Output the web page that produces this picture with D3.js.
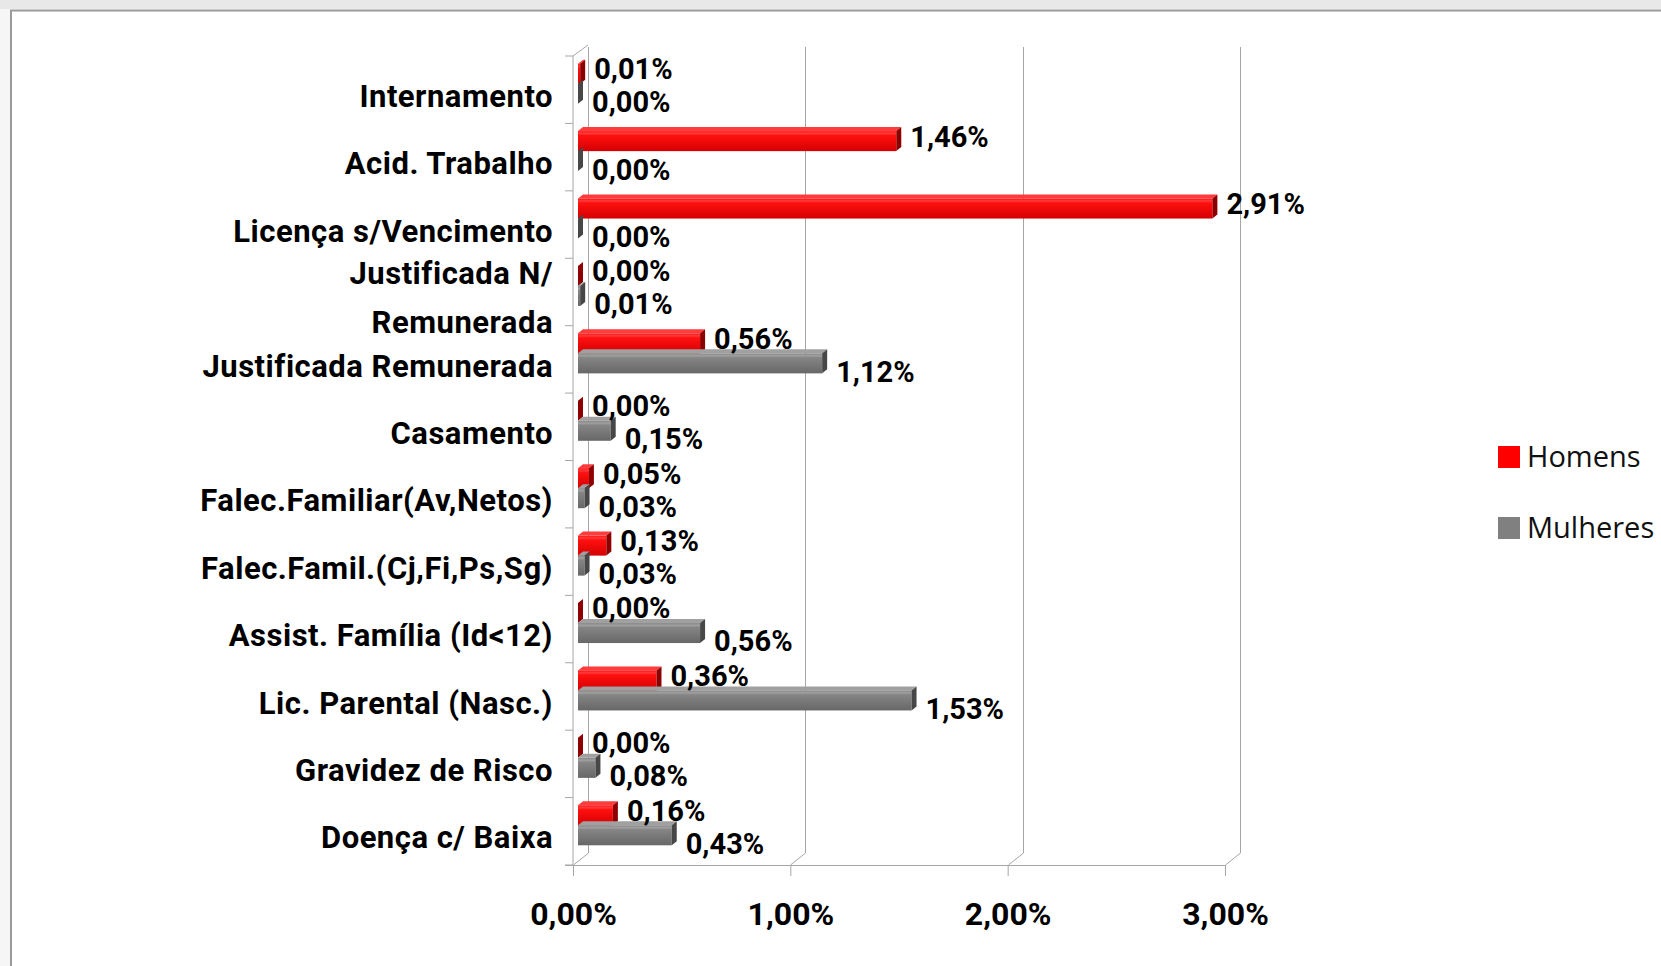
<!DOCTYPE html>
<html>
<head>
<meta charset="utf-8">
<script src="https://cdn.jsdelivr.net/npm/d3@7"></script>
<style>
	body { margin: 0; background: #fff; }
	svg { display: block; }
	.lbl { font-family: Roboto, 'Liberation Sans', sans-serif; font-weight: bold; fill: #000; }
	.cat { font-family: Roboto, 'Liberation Sans', sans-serif; font-weight: bold; fill: #000; }
	.leg { font-family: 'Open Sans', sans-serif; fill: #111; }
</style>
</head>
<body>
<svg id="chart" width="1661" height="966"></svg>
<script>
// categories, top to bottom
var categories = ['Internamento', 'Acid. Trabalho', 'Licença s/Vencimento', 'Justificada N/ Remunerada',
	'Justificada Remunerada', 'Casamento', 'Falec.Familiar(Av,Netos)', 'Falec.Famil.(Cj,Fi,Ps,Sg)',
	'Assist. Família (Id<12)', 'Lic. Parental (Nasc.)', 'Gravidez de Risco', 'Doença c/ Baixa'];
var homens   = [0.01, 1.46, 2.91, 0.00, 0.56, 0.00, 0.05, 0.13, 0.00, 0.36, 0.00, 0.16];
var mulheres = [0.00, 0.00, 0.00, 0.01, 1.12, 0.15, 0.03, 0.03, 0.56, 1.53, 0.08, 0.43];
var seriesNames = ['Homens', 'Mulheres'];
var xTicks = [0, 1, 2, 3];

initchart();

function initchart() {
	var svg = d3.select('#chart');
	var W = +svg.attr('width');
	var H = +svg.attr('height');

	var locale = d3.formatLocale({ decimal: ',', thousands: '.', grouping: [3], currency: ['', '€'] });
	var pct = function(v) { return locale.format('.2f')(v) + '%'; };

	var colors = {
		Homens:   { top: '#ff3b3b', hi: '#ff1010', lo: '#d40000', side: '#8e0000' },
		Mulheres: { top: '#a0a0a0', hi: '#858585', lo: '#676767', side: '#474747' }
	};

	// banner strip and frame
	svg.append('rect').attr('x', 0).attr('y', 0).attr('width', W).attr('height', 9).attr('fill', '#e8e8e8');
	svg.append('rect').attr('x', 0).attr('y', 9).attr('width', 10).attr('height', H).attr('fill', '#f6f6f6');
	svg.append('line').attr('x1', 10).attr('x2', W).attr('y1', 10.5).attr('y2', 10.5).attr('stroke', '#9a9a9a').attr('stroke-width', 2);
	svg.append('line').attr('x1', 11).attr('x2', 11).attr('y1', 10).attr('y2', H).attr('stroke', '#9a9a9a').attr('stroke-width', 2);

	var depthX = 15, depthY = -12;
	var floorY = 865, topY = 56, gridTop = 47;

	var x = d3.scaleLinear().domain([0, 3]).range([573, 1225]);      // front plane
	var xb = d3.scaleLinear().domain([0, 3]).range([578, 1232]);     // bar plane
	var y = d3.scaleBand().domain(categories).range([topY, floorY]);  // front plane
	var yIn = d3.scaleBand().domain(seriesNames).range([13.7, 53.7]);
	var barShift = -6;

	var grid = svg.append('g').attr('stroke', '#a6a6a6').attr('stroke-width', 1).attr('fill', 'none');

	// back wall vertical gridlines + floor slants
	xTicks.forEach(function(t) {
		var fx = Math.round(x(t)) + 0.5;
		grid.append('line').attr('x1', fx + depthX).attr('x2', fx + depthX)
			.attr('y1', gridTop).attr('y2', floorY + depthY);
		grid.append('line').attr('x1', fx).attr('x2', fx + depthX)
			.attr('y1', floorY).attr('y2', floorY + depthY);
	});
	// side wall
	grid.append('line').attr('x1', x(0)).attr('x2', x(0)).attr('y1', topY).attr('y2', floorY);
	grid.append('line').attr('x1', x(0)).attr('x2', x(0) + depthX).attr('y1', topY).attr('y2', gridTop - 2);
	// category ticks at band edges
	var edges = categories.map(function(c) { return y(c); }).concat([floorY]);
	edges.forEach(function(e) {
		grid.append('line').attr('x1', x(0) - 8).attr('x2', x(0)).attr('y1', e).attr('y2', e);
	});

	// x axis
	var xAxis = d3.axisBottom(x).tickValues(xTicks).tickFormat(pct).tickSize(11).tickPadding(26);
	var ax = svg.append('g').attr('transform', `translate(0, ${floorY})`).call(xAxis);
	ax.select('.domain').attr('stroke', '#a6a6a6').attr('d', `M${x(0) - 8},0.5H${x(3)}`);
	ax.selectAll('.tick line').attr('stroke', '#a6a6a6');
	ax.selectAll('.tick text').attr('class', 'lbl').style('font-size', '32px').attr('fill', '#000');

	// bars
	var rows = [];
	categories.forEach(function(c, i) {
		rows.push({ cat: c, s: 'Homens', v: homens[i] });
		rows.push({ cat: c, s: 'Mulheres', v: mulheres[i] });
	});

	var defs = svg.append('defs');
	seriesNames.forEach(function(s) {
		var g = defs.append('linearGradient').attr('id', 'grad-' + s).attr('x1', 0).attr('x2', 0).attr('y1', 0).attr('y2', 1);
		g.append('stop').attr('offset', '0%').attr('stop-color', colors[s].hi);
		g.append('stop').attr('offset', '12%').attr('stop-color', colors[s].top);
		g.append('stop').attr('offset', '22%').attr('stop-color', colors[s].hi);
		g.append('stop').attr('offset', '100%').attr('stop-color', colors[s].lo);
	});

	var bd = 5, bdy = -4;
	var bars = svg.append('g').selectAll('g.bar').data(rows).join('g').attr('class', 'bar');
	bars.each(function(d) {
		var g = d3.select(this);
		var x0 = xb(0), x1 = xb(d.v);
		var y0 = y(d.cat) + barShift + yIn(d.s), h = yIn.bandwidth();
		var c = colors[d.s];
		g.append('polygon')
			.attr('points', [[x0, y0], [x1, y0], [x1 + bd, y0 + bdy], [x0 + bd, y0 + bdy]].join(' '))
			.attr('fill', c.top);
		g.append('rect').attr('x', x0).attr('y', y0).attr('width', x1 - x0).attr('height', h)
			.attr('fill', 'url(#grad-' + d.s + ')');
		g.append('polygon')
			.attr('points', [[x1, y0], [x1 + bd, y0 + bdy], [x1 + bd, y0 + h + bdy], [x1, y0 + h]].join(' '))
			.attr('fill', c.side);
	});

	// data labels
	svg.append('g').selectAll('text').data(rows).join('text')
		.attr('class', 'lbl')
		.style('font-size', '29px')
		.attr('x', function(d) { return xb(d.v) + bd + 9; })
		.attr('y', function(d) {
			var mid = y(d.cat) + barShift + yIn(d.s) + yIn.bandwidth() / 2;
			return mid + (d.s === 'Homens' ? -5 : 8);
		})
		.attr('dy', '0.36em')
		.text(function(d) { return pct(d.v); });

	// category labels
	var cats = svg.append('g').selectAll('text').data(categories).join('text')
		.attr('class', 'cat')
		.style('font-size', '31px')
		.style('letter-spacing', '0.5px')
		.attr('text-anchor', 'end')
		.attr('x', 553)
		.attr('y', function(d) { return y(d) + y.bandwidth() / 2 + 6; })
		.attr('dy', '0.36em');
	cats.each(function(d) {
		var t = d3.select(this);
		if (d === 'Justificada N/ Remunerada') {
			t.append('tspan').attr('x', 553).attr('dy', '-0.44em').text('Justificada N/');
			t.append('tspan').attr('x', 553).attr('dy', '1.58em').text('Remunerada');
		} else {
			t.text(d);
		}
	});

	// legend
	var leg = svg.append('g').attr('transform', 'translate(1498, 446)');
	var li = leg.selectAll('g').data(seriesNames).join('g')
		.attr('transform', function(d, i) { return `translate(0, ${i * 71})`; });
	li.append('rect').attr('width', 22).attr('height', 22)
		.attr('fill', function(d) { return d === 'Homens' ? '#ff0000' : '#808080'; });
	li.append('text').attr('class', 'leg').style('font-size', '29px')
		.attr('x', 29).attr('y', 11).attr('dy', '0.36em')
		.text(function(d) { return d; });
}
</script>
</body>
</html>
